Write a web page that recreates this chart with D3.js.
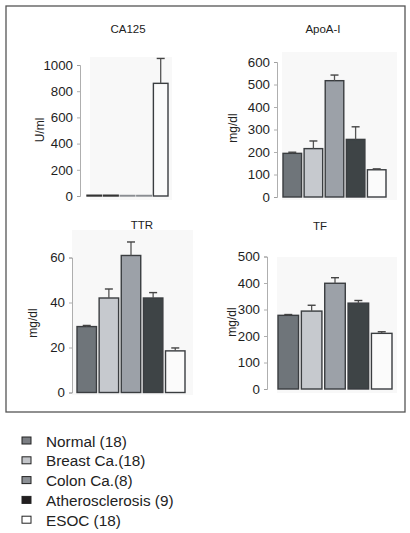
<!DOCTYPE html>
<html><head><meta charset="utf-8">
<script src="https://cdn.jsdelivr.net/npm/d3@7"></script>
<style>body{margin:0;background:#fff}svg{display:block}</style>
</head><body>
<script>
const groups = ["Normal (18)", "Breast Ca.(18)", "Colon Ca.(8)", "Atherosclerosis (9)", "ESOC (18)"];
const barColors = ["#6f757a", "#c6c9ce", "#9ca1a8", "#3e4446", "#fbfbfb"];
const legendColors = ["#7b7e83", "#c3c5c9", "#8c9095", "#231f20", "#ffffff"];

const ca125Values = [6, 6, 4, 4, 860];
const ca125Errors = [0, 0, 0, 0, 190];
const ca125Ticks = [0, 200, 400, 600, 800, 1000];

const apoaValues = [194, 215, 517, 256, 121];
const apoaErrors = [5, 34, 25, 56, 4];
const apoaTicks = [0, 100, 200, 300, 400, 500, 600];

const ttrValues = [29.3, 42, 60.9, 42, 18.5];
const ttrErrors = [0.5, 4, 6, 2.4, 1.3];
const ttrTicks = [0, 20, 40, 60];

const tfValues = [278, 294, 399, 324, 210];
const tfErrors = [3, 22, 21, 10, 6];
const tfTicks = [0, 100, 200, 300, 400, 500];

const W = 410, H = 533;
const svg = d3.select("body").append("svg").attr("width", W).attr("height", H);
const font = "'Liberation Sans', Arial, sans-serif";

svg.append("rect").attr("x", 6).attr("y", 6).attr("width", 399).attr("height", 406)
  .attr("fill", "none").attr("stroke", "#555").attr("stroke-width", 1.3);

const panels = [
  {title: "CA125", unit: "U/ml", values: ca125Values, errors: ca125Errors, ticks: ca125Ticks,
   axisX: 80, y0: 196, y1: 65, bx0: 87, bx1: 168, bg: [90, 57, 82, 143], tx: 128, ty: 33, ux: 44, uy: 130},
  {title: "ApoA-I", unit: "mg/dl", values: apoaValues, errors: apoaErrors, ticks: apoaTicks,
   axisX: 277, y0: 197, y1: 62, bx0: 283, bx1: 386, bg: [282, 52, 115, 148], tx: 323, ty: 33, ux: 237, uy: 128},
  {title: "TTR", unit: "mg/dl", values: ttrValues, errors: ttrErrors, ticks: ttrTicks,
   axisX: 72, y0: 392.5, y1: 257.5, bx0: 77, bx1: 185, bg: [72, 230, 121, 165], tx: 142, ty: 229, ux: 37, uy: 323},
  {title: "TF", unit: "mg/dl", values: tfValues, errors: tfErrors, ticks: tfTicks,
   axisX: 267, y0: 389, y1: 256.5, bx0: 278, bx1: 392, bg: [277, 257, 120, 136], tx: 320, ty: 230, ux: 236, uy: 322}
];

panels.forEach(p => {
  const g = svg.append("g");
  g.append("rect").attr("x", p.bg[0]).attr("y", p.bg[1]).attr("width", p.bg[2]).attr("height", p.bg[3])
    .attr("fill", "#f8f8f8");
  const maxT = p.ticks[p.ticks.length - 1];
  const y = d3.scaleLinear().domain([0, maxT]).range([p.y0, p.y1]);
  const x = d3.scaleBand().domain(groups).range([p.bx0, p.bx1]).paddingInner(0.12).paddingOuter(0);

  const axis = d3.axisLeft(y).tickValues(p.ticks).tickSize(3).tickPadding(4).tickFormat(d3.format("d"));
  const ag = g.append("g").attr("transform", `translate(${p.axisX},0)`).call(axis);
  ag.select(".domain").attr("stroke", "#9a9a9a").attr("stroke-width", 0.8);
  ag.selectAll(".tick line").attr("stroke", "#9a9a9a").attr("stroke-width", 0.8);
  ag.selectAll(".tick text").attr("font-family", font).attr("font-size", 13.3).attr("fill", "#1e1e1e");

  g.selectAll("rect.bar").data(p.values).enter().append("rect").attr("class", "bar")
    .attr("x", (d, i) => x(groups[i]))
    .attr("y", d => y(d))
    .attr("width", x.bandwidth())
    .attr("height", d => Math.max(0.5, y(0) - y(d)))
    .attr("fill", (d, i) => barColors[i])
    .attr("stroke", (d, i) => (p.title === "CA125" && i < 4) ? (i < 2 ? "#333" : "#8a8d92") : "#3a3d40")
    .attr("stroke-width", 1.4);

  p.values.forEach((v, i) => {
    const e = p.errors[i];
    if (!e) return;
    const cx = x(groups[i]) + x.bandwidth() / 2;
    g.append("line").attr("x1", cx).attr("x2", cx).attr("y1", y(v)).attr("y2", y(v + e))
      .attr("stroke", "#555").attr("stroke-width", 1.3);
    g.append("line").attr("x1", cx - 4).attr("x2", cx + 4).attr("y1", y(v + e)).attr("y2", y(v + e))
      .attr("stroke", "#444").attr("stroke-width", 1.4);
  });

  g.append("text").attr("x", p.tx).attr("y", p.ty).attr("text-anchor", "middle")
    .attr("font-family", font).attr("font-size", 11.5).attr("fill", "#222").text(p.title);
  g.append("text").attr("transform", `translate(${p.ux},${p.uy}) rotate(-90)`).attr("text-anchor", "middle")
    .attr("font-family", font).attr("font-size", 12).attr("fill", "#222").text(p.unit);
});

const lg = svg.append("g");
groups.forEach((name, i) => {
  const cy = 441 + i * 19.8;
  lg.append("rect").attr("x", 22).attr("y", cy - 4).attr("width", 9).attr("height", 7)
    .attr("fill", legendColors[i]).attr("stroke", "#222").attr("stroke-width", 1);
  lg.append("text").attr("x", 46).attr("y", cy + 5.5).attr("font-family", font).attr("font-size", 15.3)
    .attr("fill", "#222").text(name);
});
</script>
</body></html>
